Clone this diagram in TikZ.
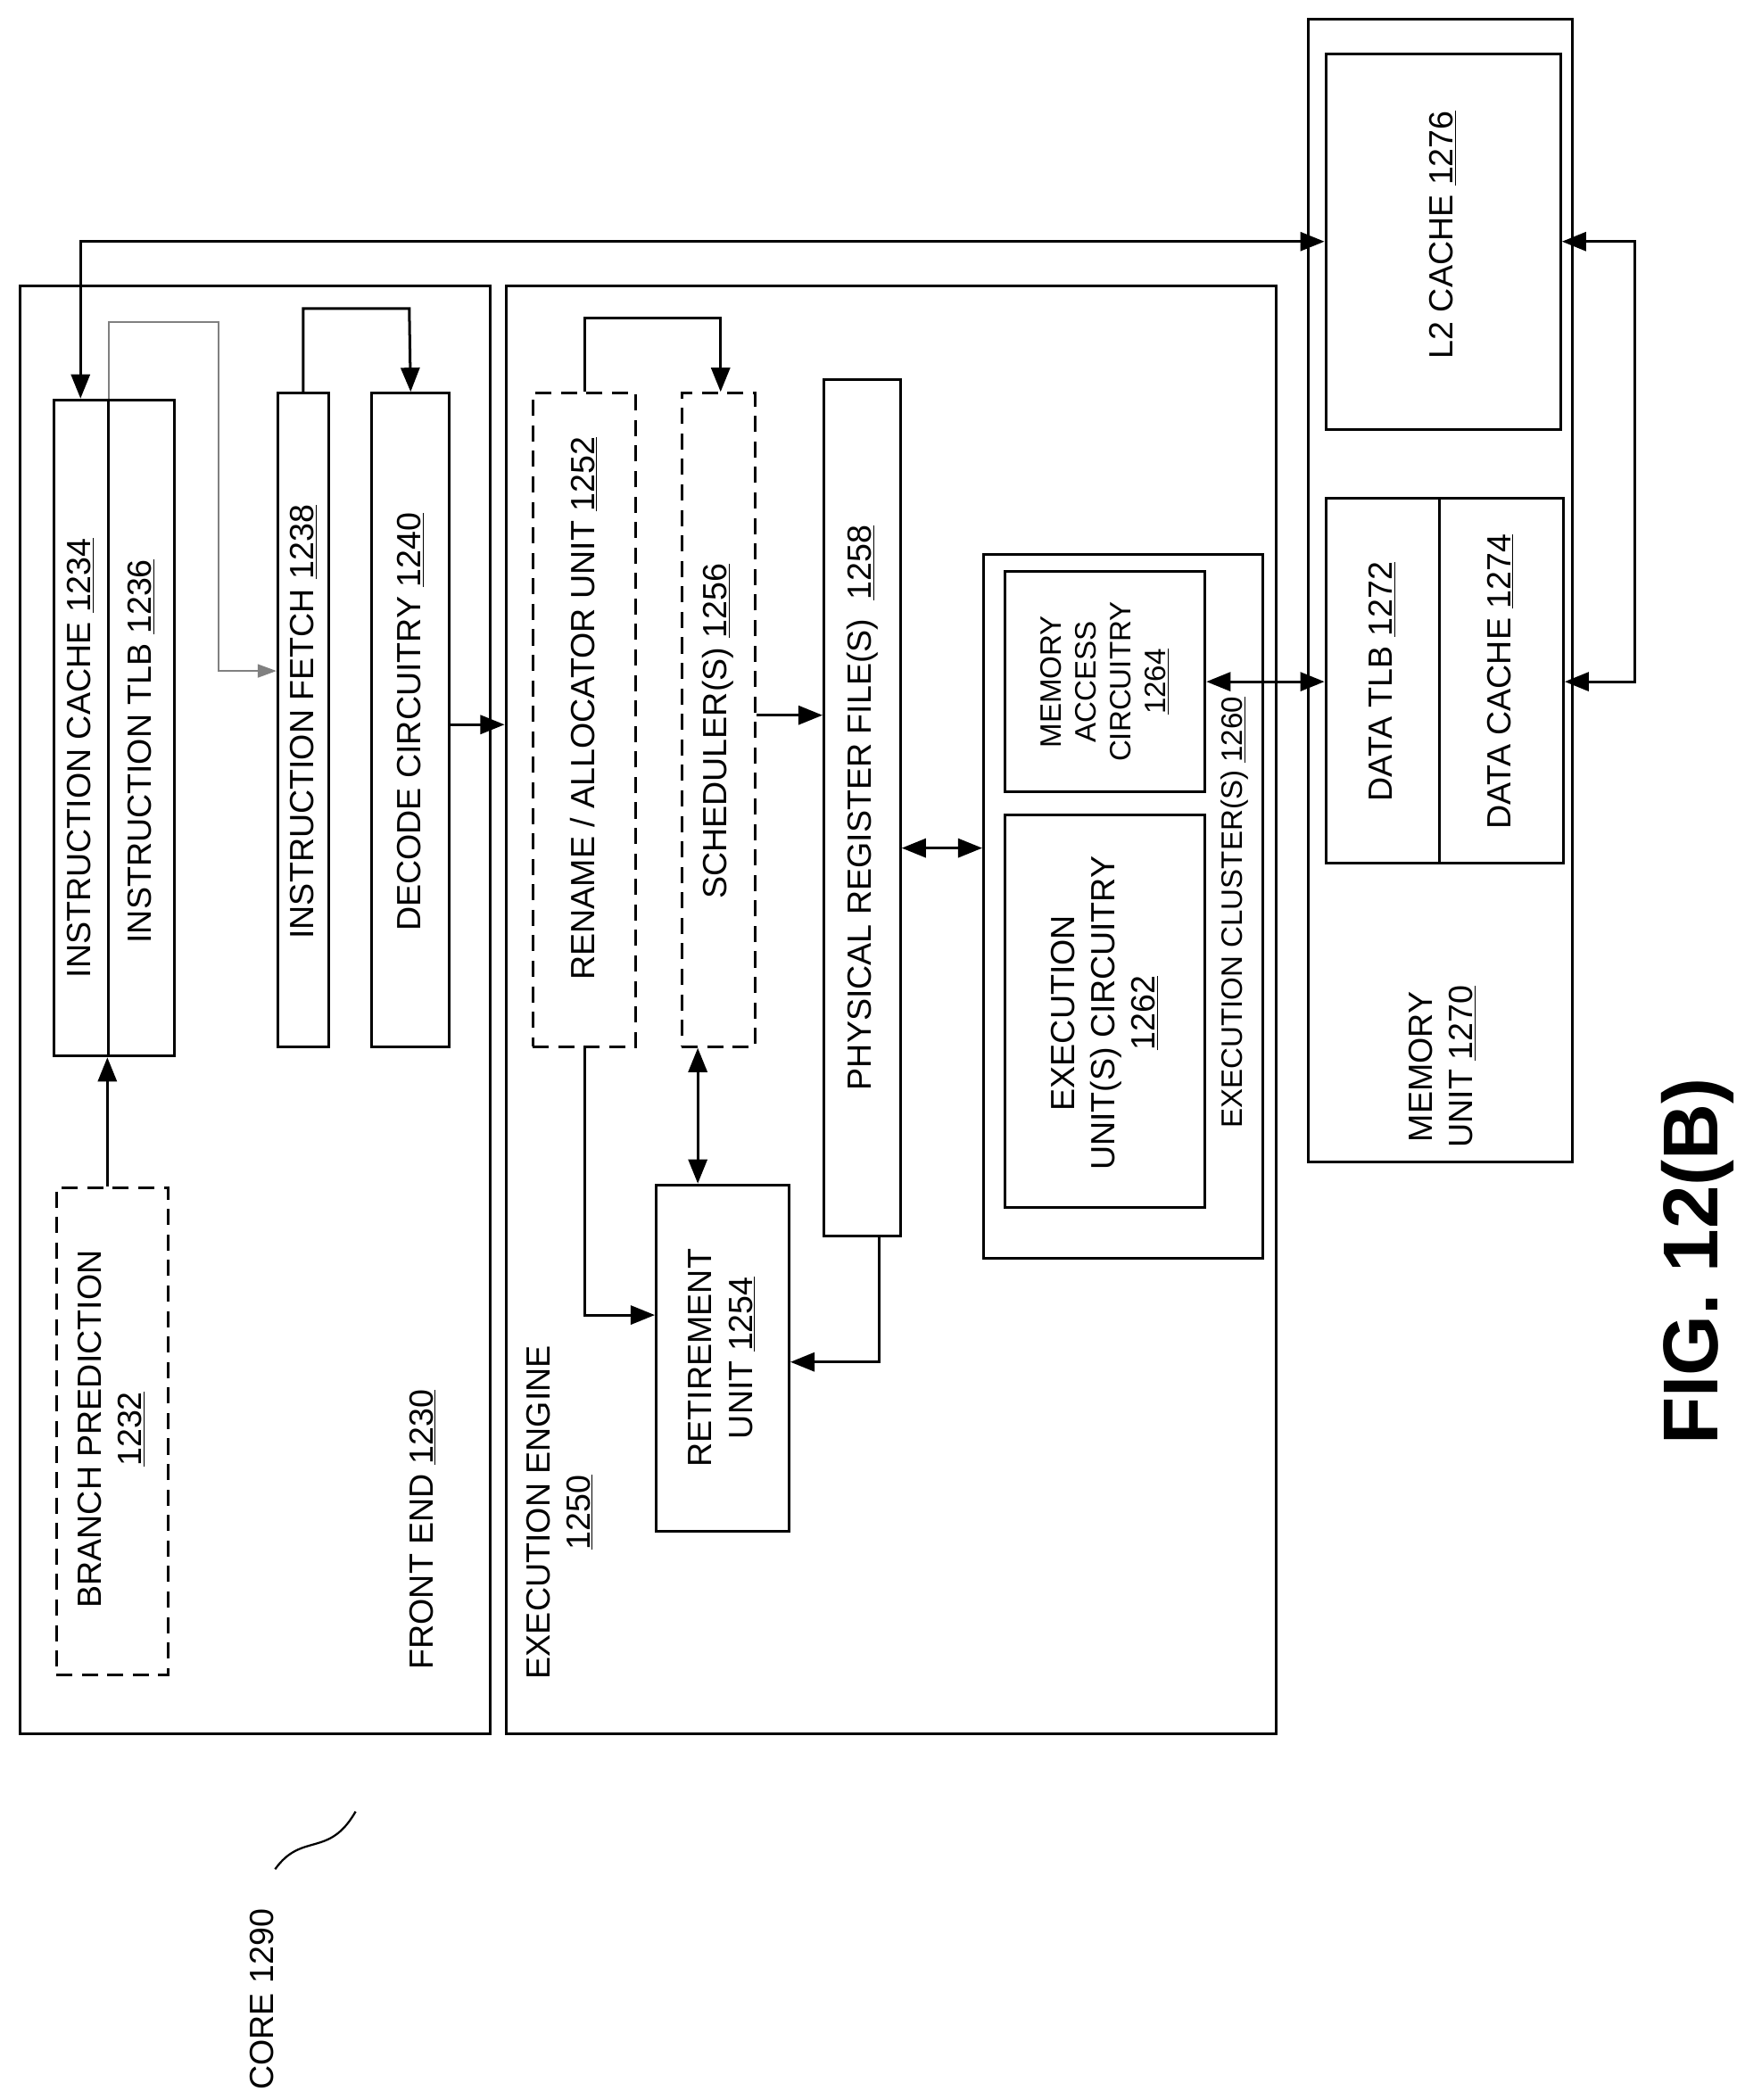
\documentclass[tikz,border=0pt]{standalone}
\usepackage{fontspec}
\setmainfont{Liberation Sans}
\usetikzlibrary{arrows.meta,calc}
\begin{document}
\begin{tikzpicture}[x=1pt,y=-1pt,
 box/.style={draw,line width=2pt,inner sep=0pt},
 dbox/.style={box,dashed,dash pattern=on 12pt off 7pt},
 t/.style={rotate=90,font=\fontsize{25}{30}\selectfont,align=center,inner sep=0pt},
 ts/.style={t,font=\fontsize{22}{26}\selectfont},
 ar/.style={line width=2pt,-{Triangle[length=18pt,width=14pt]}},
 dar/.style={line width=2pt,{Triangle[length=18pt,width=14pt]}-{Triangle[length=18pt,width=14pt]}}]
\useasboundingbox (0,0) rectangle (1300,1565);
% outer boxes
\node[box,minimum width=350,minimum height=1079] (fe) at (190,752.5) {};
\node[box,minimum width=574,minimum height=1079] (ee) at (664,752.5) {};
\node[box,minimum width=197,minimum height=852] (mu) at (1073.5,440) {};
\node[box,minimum width=175,minimum height=280] (l2) at (1075.5,180) {};
\node[box,minimum width=177,minimum height=272] (dc) at (1076.5,507) {};
\draw[line width=2pt] (1073,371) -- (1073,643);
% front end
\node[box,minimum width=90,minimum height=489] (icb) at (85,542.5) {};
\draw[line width=2pt] (81,298) -- (81,787);
\node[dbox,minimum width=83,minimum height=363] (bp) at (83.5,1066.5) {};
\node[box,minimum width=38,minimum height=487] (if) at (226,536.5) {};
\node[box,minimum width=58,minimum height=487] (dec) at (306,536.5) {};
% exec engine
\node[dbox,minimum width=77,minimum height=487] (ren) at (435.5,536.5) {};
\node[dbox,minimum width=55,minimum height=487] (sch) at (535.5,536.5) {};
\node[box,minimum width=57,minimum height=638] (prf) at (642.5,602) {};
\node[box,minimum width=99,minimum height=258] (ret) at (538.5,1012) {};
\node[box,minimum width=208,minimum height=525] (ec) at (837,675.5) {};
\node[box,minimum width=149,minimum height=164] (mac) at (823.5,508) {};
\node[box,minimum width=149,minimum height=293] (eu) at (823.5,753.5) {};
% texts
\node[t] (tic) at (60,565) {INSTRUCTION CACHE \underline{1234}};
\node[t] (titlb) at (105,560) {INSTRUCTION TLB \underline{1236}};
\node[t] (tbp) at (83,1065) {BRANCH PREDICTION\\\underline{1232}};
\node[t] (tif) at (226,538) {INSTRUCTION FETCH \underline{1238}};
\node[t] (tdec) at (306,538) {DECODE CIRCUITRY \underline{1240}};
\node[t] (tfe) at (315,1140) {FRONT END \underline{1230}};
\node[t] (tren) at (435,528) {RENAME / ALLOCATOR UNIT \underline{1252}};
\node[t] (tsch) at (535,545) {SCHEDULER(S) \underline{1256}};
\node[t] (tprf) at (643,602) {PHYSICAL REGISTER FILE(S)\ \ \underline{1258}};
\node[t] (tret) at (538,1012) {RETIREMENT\\UNIT \underline{1254}};
\node[t] (tee) at (417,1127) {EXECUTION ENGINE\\\underline{1250}};
\node[t] (teu) at (823,755) {EXECUTION\\UNIT(S) CIRCUITRY\\\underline{1262}};
\node[ts] (tmac) at (823,508) {MEMORY\\ACCESS\\CIRCUITRY\\\underline{1264}};
\node[ts] (tec) at (920,680) {EXECUTION CLUSTER(S) \underline{1260}};
\node[t] (tdtlb) at (1030,508) {DATA TLB \underline{1272}};
\node[t] (tdc) at (1118,508) {DATA CACHE \underline{1274}};
\node[t] (tl2) at (1075,175) {L2 CACHE \underline{1276}};
\node[t] (tmu) at (1075,795) {MEMORY\\UNIT \underline{1270}};
\node[t] (tcore) at (195,1490) {CORE 1290};
\node[rotate=90,font=\fontsize{58}{60}\selectfont\bfseries,inner sep=0pt] (fig) at (1265,940) {FIG. 12(B)};
\draw[line width=1.5pt] (205,1393) .. controls (225,1365) and (245,1385) .. (265,1350);
% connectors
\draw[dar] ([xshift=-25pt]icb.north) |- (l2.west);
\draw[gray,line width=1pt,-{Triangle[length=14pt,width=10pt]}] ([xshift=-4pt]icb.north) |- (163,240) |- (if.west |- 0,500);
\draw[ar] (if.north) |- (305,230) -- (dec.north);
\draw[ar] ([xshift=-3.5pt]bp.north) -- ([xshift=-5pt]icb.south);
\draw[ar] (dec.east |- 0,540) -- (ee.west |- 0,540);
\draw[ar] (ren.north) |- (537,237) -- ([xshift=1.5pt]sch.north);
\draw[ar] (sch.east |- 0,533) -- (prf.west |- 0,533);
\draw[ar] (ren.south) |- (ret.west |- 0,980);
\draw[dar] ([xshift=-15.5pt]sch.south) -- ([xshift=-18.5pt]ret.north);
\draw[ar] ([xshift=12.5pt]prf.south) |- (ret.east |- 0,1015);
\draw[dar] (prf.east |- 0,632) -- (ec.west |- 0,632);
\draw[dar] (mac.east) -- (dc.west |- mac.east);
\draw[dar] (l2.east) -- (1218,180) |- (dc.east |- 0,508);
\end{tikzpicture}
\end{document}
